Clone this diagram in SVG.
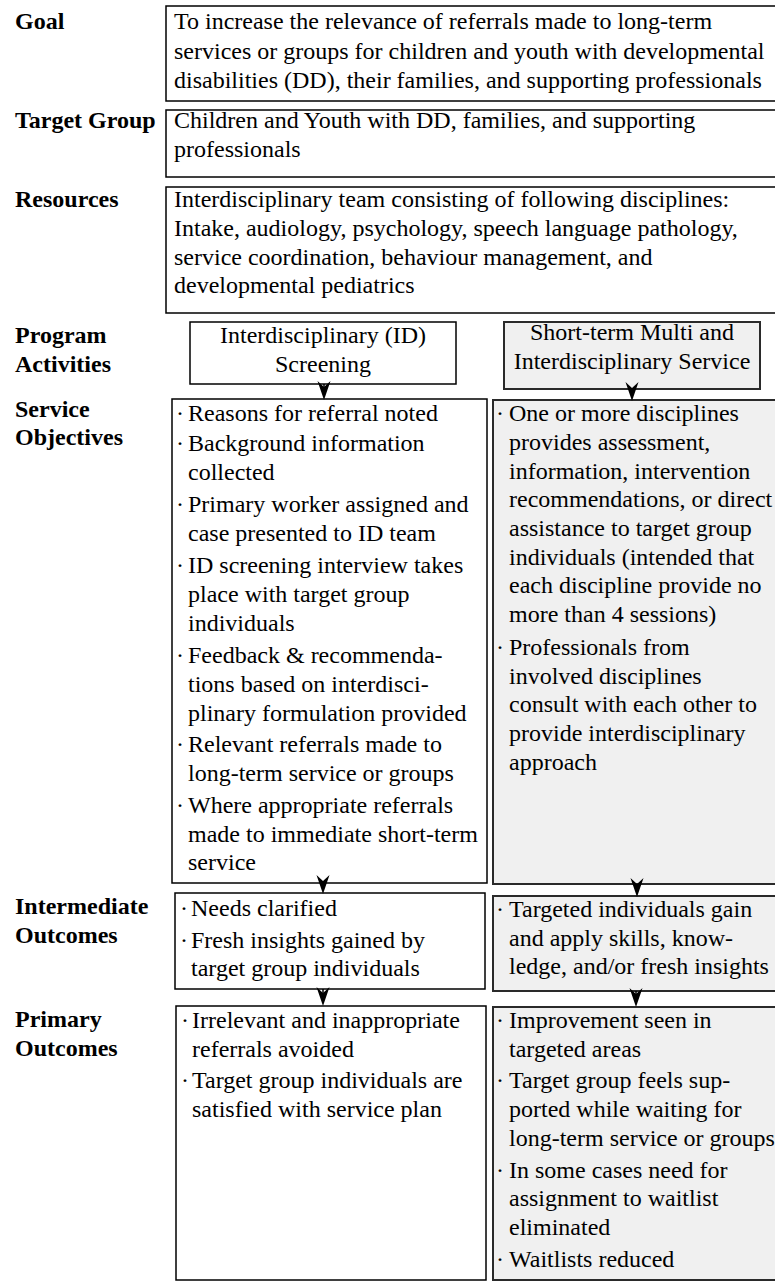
<svg xmlns="http://www.w3.org/2000/svg" xmlns:xlink="http://www.w3.org/1999/xlink" width="775" height="1281" viewBox="0 0 775 1281">
<style>
.lbl{font-family:"Liberation Serif","Times New Roman",serif;font-size:24px;font-weight:bold;fill:#000}
.txt{font-family:"Liberation Serif","Times New Roman",serif;font-size:24px;fill:#000}
.mid{text-anchor:middle}
.box{fill:#fff;stroke:#000;stroke-width:1.5}
.gbox{fill:#f0f0f0;stroke:#2a2a2a;stroke-width:2}
.conn{stroke:#000;stroke-width:1.5;fill:none}
.head{fill:#000}
</style>
<defs>
<path id="ah" class="head" d="M0,0 L-6.5,-19 L0,-13 L6.5,-19 Z"/>
</defs>
<rect width="775" height="1281" fill="#fff"/>

<g id="labels">
<text class="lbl" x="15" y="29">Goal</text>
<text class="lbl" x="15" y="128">Target Group</text>
<text class="lbl" x="15" y="207">Resources</text>
<text class="lbl" x="15" y="343">Program</text>
<text class="lbl" x="15" y="372">Activities</text>
<text class="lbl" x="15" y="417">Service</text>
<text class="lbl" x="15" y="445">Objectives</text>
<text class="lbl" x="15" y="914">Intermediate</text>
<text class="lbl" x="15" y="943">Outcomes</text>
<text class="lbl" x="15" y="1027">Primary</text>
<text class="lbl" x="15" y="1056">Outcomes</text>
</g>

<g id="goal">
<rect class="box" x="166" y="6" width="620" height="95"/>
<text class="txt" x="174" y="29">To increase the relevance of referrals made to long-term</text>
<text class="txt" x="174" y="58.7">services or groups for children and youth with developmental</text>
<text class="txt" x="174" y="88">disabilities (DD), their families, and supporting professionals</text>
</g>

<g id="target-group">
<rect class="box" x="166" y="110" width="620" height="67"/>
<text class="txt" x="174" y="128">Children and Youth with DD, families, and supporting</text>
<text class="txt" x="174" y="157">professionals</text>
</g>

<g id="resources">
<rect class="box" x="166" y="187" width="620" height="126"/>
<text class="txt" x="174" y="207">Interdisciplinary team consisting of following disciplines:</text>
<text class="txt" x="174" y="236">Intake, audiology, psychology, speech language pathology,</text>
<text class="txt" x="174" y="265">service coordination, behaviour management, and</text>
<text class="txt" x="174" y="293">developmental pediatrics</text>
</g>

<g id="activity-id-screening">
<rect class="box" x="190" y="322" width="266" height="62"/>
<text class="txt mid" x="323" y="343">Interdisciplinary (ID)</text>
<text class="txt mid" x="323" y="372">Screening</text>
</g>

<g id="activity-short-term">
<rect class="gbox" x="504" y="322" width="256" height="67"/>
<text class="txt mid" x="632" y="340">Short-term Multi and</text>
<text class="txt mid" x="632" y="369">Interdisciplinary Service</text>
</g>

<g id="objectives-left">
<rect class="box" x="172" y="399" width="315" height="484"/>
<g class="txt">
<text x="176" y="421">·</text><text x="188" y="421">Reasons for referral noted</text>
<text x="176" y="451">·</text><text x="188" y="451">Background information</text>
<text x="188" y="480">collected</text>
<text x="176" y="512">·</text><text x="188" y="512">Primary worker assigned and</text>
<text x="188" y="541">case presented to ID team</text>
<text x="176" y="573">·</text><text x="188" y="573">ID screening interview takes</text>
<text x="188" y="602">place with target group</text>
<text x="188" y="631">individuals</text>
<text x="176" y="663">·</text><text x="188" y="663">Feedback &amp; recommenda-</text>
<text x="188" y="692">tions based on interdisci-</text>
<text x="188" y="720.5">plinary formulation provided</text>
<text x="176" y="752">·</text><text x="188" y="752">Relevant referrals made to</text>
<text x="188" y="781">long-term service or groups</text>
<text x="176" y="812.5">·</text><text x="188" y="812.5">Where appropriate referrals</text>
<text x="188" y="841.5">made to immediate short-term</text>
<text x="188" y="870">service</text>
</g>
</g>

<g id="objectives-right">
<rect class="gbox" x="493" y="400" width="300" height="484"/>
<g class="txt">
<text x="496" y="421">·</text><text x="509" y="421">One or more disciplines</text>
<text x="509" y="449.7">provides assessment,</text>
<text x="509" y="478.5">information, intervention</text>
<text x="509" y="507.2">recommendations, or direct</text>
<text x="509" y="535.9">assistance to target group</text>
<text x="509" y="564.7">individuals (intended that</text>
<text x="509" y="593.4">each discipline provide no</text>
<text x="509" y="622.1">more than 4 sessions)</text>
<text x="496" y="655">·</text><text x="509" y="655">Professionals from</text>
<text x="509" y="683.7">involved disciplines</text>
<text x="509" y="712.4">consult with each other to</text>
<text x="509" y="741.1">provide interdisciplinary</text>
<text x="509" y="769.8">approach</text>
</g>
</g>

<g id="intermediate-left">
<rect class="box" x="175" y="893" width="310" height="96"/>
<g class="txt">
<text x="180" y="916">·</text><text x="191" y="916">Needs clarified</text>
<text x="180" y="947.5">·</text><text x="191" y="947.5">Fresh insights gained by</text>
<text x="191" y="976.2">target group individuals</text>
</g>
</g>

<g id="intermediate-right">
<rect class="gbox" x="493" y="896" width="300" height="95"/>
<g class="txt">
<text x="496" y="917">·</text><text x="509" y="917">Targeted individuals gain</text>
<text x="509" y="945.7">and apply skills, know-</text>
<text x="509" y="974.4">ledge, and/or fresh insights</text>
</g>
</g>

<g id="primary-left">
<rect class="box" x="176" y="1006" width="310" height="274"/>
<g class="txt">
<text x="181" y="1028">·</text><text x="192" y="1028">Irrelevant and inappropriate</text>
<text x="192" y="1056.7">referrals avoided</text>
<text x="181" y="1088.4">·</text><text x="192" y="1088.4">Target group individuals are</text>
<text x="192" y="1117.1">satisfied with service plan</text>
</g>
</g>

<g id="primary-right">
<rect class="gbox" x="493" y="1007" width="300" height="273"/>
<g class="txt">
<text x="496" y="1028">·</text><text x="509" y="1028">Improvement seen in</text>
<text x="509" y="1056.7">targeted areas</text>
<text x="496" y="1088.4">·</text><text x="509" y="1088.4">Target group feels sup-</text>
<text x="509" y="1117.1">ported while waiting for</text>
<text x="509" y="1145.8">long-term service or groups</text>
<text x="496" y="1177.5">·</text><text x="509" y="1177.5">In some cases need for</text>
<text x="509" y="1206.2">assignment to waitlist</text>
<text x="509" y="1234.9">eliminated</text>
<text x="496" y="1266.6">·</text><text x="509" y="1266.6">Waitlists reduced</text>
</g>
</g>

<g id="connectors">
<line class="conn" x1="324" y1="384" x2="324" y2="388"/>
<use href="#ah" xlink:href="#ah" x="324" y="400"/>
<line class="conn" x1="632" y1="389" x2="632" y2="390"/>
<use href="#ah" xlink:href="#ah" x="632" y="401"/>
<line class="conn" x1="323" y1="883" x2="323" y2="884"/>
<use href="#ah" xlink:href="#ah" x="323" y="894"/>
<line class="conn" x1="637" y1="884" x2="637" y2="885"/>
<use href="#ah" xlink:href="#ah" x="637" y="897"/>
<line class="conn" x1="323" y1="989" x2="323" y2="994"/>
<use href="#ah" xlink:href="#ah" x="323" y="1006"/>
<line class="conn" x1="636" y1="991" x2="636" y2="995"/>
<use href="#ah" xlink:href="#ah" x="636" y="1007"/>
</g>
</svg>
